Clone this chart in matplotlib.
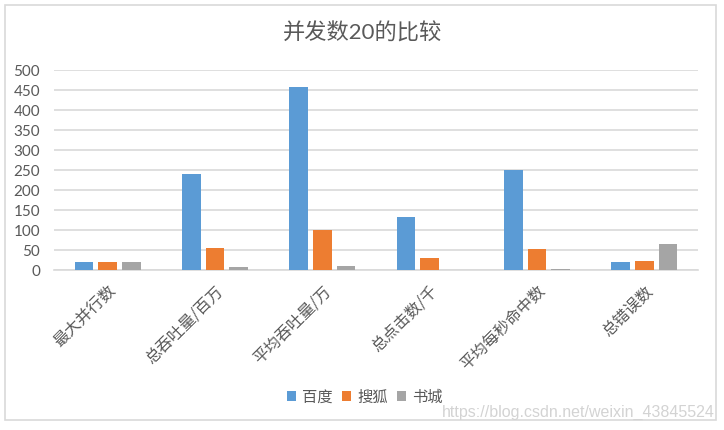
import numpy as np
import matplotlib.pyplot as plt
from matplotlib.patches import Rectangle

plt.rcParams['font.family'] = ['Lato', 'Noto Sans CJK SC', 'DejaVu Sans']

categories = ['最大并行数', '总吞吐量/百万', '平均吞吐量/万', '总点击数/千', '平均每秒命中数', '总错误数']
baidu = [20, 240, 457, 132, 250, 21]
sohu = [20, 54, 101, 29, 53, 23]
shucheng = [20, 7, 11, 0, 3, 65]
series_names = ['百度', '搜狐', '书城']
yticks = list(range(0, 501, 50))

colors = ['#5B9BD5', '#ED7D31', '#A5A5A5']
text_color = '#595959'

fig = plt.figure(figsize=(7.24, 4.3), dpi=100)
ax = fig.add_axes([54 / 724, 1 - 270 / 430, 644 / 724, 200 / 430])

# outer chart border
fig.patches.append(Rectangle((5 / 724, 1 - 420 / 430), 711 / 724, 415 / 430,
                             transform=fig.transFigure, fill=False,
                             edgecolor='#d9d9d9', linewidth=1.2))

x = np.arange(len(categories))
w = 0.175
step = 0.22
for i, (vals, c, name) in enumerate(zip([baidu, sohu, shucheng], colors, series_names)):
    ax.bar(x + (i - 1) * step, vals, width=w, color=c, label=name, zorder=3)

ax.set_xlim(-0.5, len(categories) - 0.5)
ax.set_ylim(0, 500)
ax.set_yticks(yticks)
ax.yaxis.grid(True, color='#d9d9d9', linewidth=1.2, zorder=0)
for s in ['top', 'right', 'left']:
    ax.spines[s].set_visible(False)
ax.spines['bottom'].set_color('#d9d9d9')
ax.spines['bottom'].set_linewidth(1.2)
ax.tick_params(axis='both', length=0, colors=text_color)
ax.tick_params(axis='y', labelsize=11, pad=10)
ax.set_xticks(x)
ax.set_xticklabels(categories, rotation=45, ha='right', rotation_mode='anchor',
                   fontsize=11.5, family=['Noto Sans CJK SC', 'DejaVu Sans'])
ax.tick_params(axis='x', pad=9)

fig.text(0.5, 1 - 33 / 430, '并发数20的比较', ha='center', va='center',
         fontsize=16, color=text_color)

leg = fig.legend(loc='center', bbox_to_anchor=(365 / 724, 1 - 397 / 430), ncol=3,
                 frameon=False, handlelength=0.6, handleheight=0.6,
                 handletextpad=0.4, columnspacing=0.6,
                 prop={'family': ['Noto Sans CJK SC', 'DejaVu Sans'], 'size': 11})
for t in leg.get_texts():
    t.set_color(text_color)

fig.text(715 / 724, 1 - 412 / 430, 'https://blog.csdn.net/weixin_43845524',
         ha='right', va='center', fontsize=11.5, color='#d3d3d3',
         family=['Liberation Sans'])

fig.savefig('out.png', dpi=100)
